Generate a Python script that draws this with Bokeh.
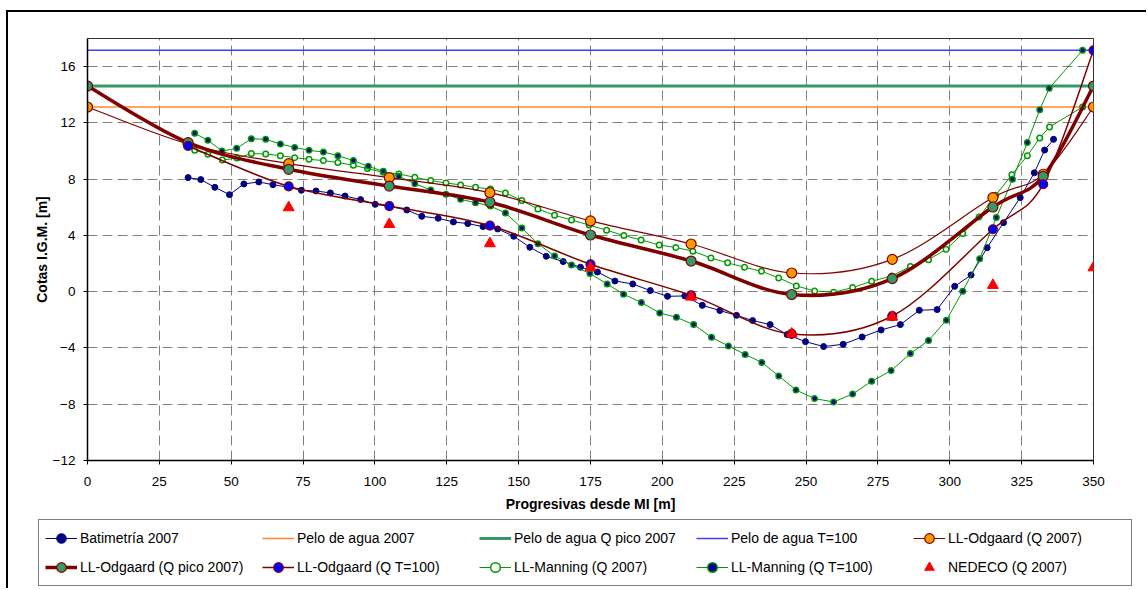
from bokeh.plotting import figure
from bokeh.models import (ColumnDataSource, Legend, LegendItem, Range1d, FixedTicker)
from bokeh.embed import file_html
from bokeh.resources import INLINE

# ---------------- data ----------------
bat_x = [35.0, 39.4, 44.3, 49.4, 54.4, 59.6, 64.5, 69.5, 74.4, 79.5, 84.5, 89.6, 95.0, 100.1,
         105.0, 111.1, 116.3, 122.0, 127.3, 132.3, 137.6, 142.7, 148.3, 153.9, 159.6, 165.5,
         171.5, 177.4, 183.5, 189.7, 195.8, 201.8, 207.8, 213.9, 220.0, 225.8, 231.4, 237.5,
         243.4, 249.8, 256.1, 262.9, 269.5, 276.1, 282.8, 289.4, 295.6, 301.7, 307.4, 313.0,
         318.7, 324.5, 329.4, 333.0, 336.1]
bat_y = [8.11, 7.97, 7.42, 6.90, 7.66, 7.80, 7.61, 7.44, 7.21, 7.16, 7.02, 6.80, 6.55, 6.21,
         6.07, 5.81, 5.36, 5.22, 4.96, 4.84, 4.63, 4.46, 3.94, 3.16, 2.52, 2.14,
         1.74, 1.40, 0.76, 0.55, 0.08, -0.33, -0.30, -0.97, -1.34, -1.68, -2.05, -2.34,
         -3.05, -3.55, -3.90, -3.74, -3.22, -2.72, -2.34, -1.32, -1.27, 0.38, 1.19, 3.13,
         4.91, 6.69, 8.45, 10.07, 10.83]

man07_x = [37.3, 41.9, 46.9, 52.0, 57.0, 62.0, 67.1, 72.1, 77.1, 82.1, 87.1, 92.5, 97.4, 102.9,
           108.3, 113.9, 119.4, 124.7, 129.8, 135.0, 140.2, 145.4, 151.1, 156.7, 162.5, 168.4,
           174.5, 180.6, 186.6, 192.6, 198.9, 204.7, 210.6, 216.9, 222.7, 228.6, 234.5, 240.5,
           246.6, 253.0, 259.6, 266.2, 272.8, 279.8, 286.3, 292.6, 298.7, 304.5, 310.2, 316.0,
           321.6, 327.0, 331.3, 334.7, 346.2]
man07_y = [10.05, 9.77, 9.36, 9.50, 9.82, 9.79, 9.67, 9.53, 9.41, 9.32, 9.18, 8.99, 8.75, 8.49,
           8.37, 8.13, 7.90, 7.73, 7.59, 7.42, 7.30, 7.02, 6.48, 5.88, 5.43, 5.10,
           4.74, 4.37, 3.99, 3.68, 3.32, 3.14, 2.88, 2.40, 2.05, 1.74, 1.45, 0.98,
           0.41, 0.05, -0.04, 0.29, 0.74, 1.12, 1.79, 2.28, 3.01, 4.13, 5.31, 6.86,
           8.32, 9.67, 10.93, 11.71, 13.13]

man100_x = [37.3, 41.9, 46.8, 51.9, 57.0, 62.0, 67.1, 72.1, 77.1, 82.1, 87.1, 92.5, 97.7, 102.9,
            108.3, 113.9, 119.4, 124.7, 129.8, 135.0, 140.2, 145.4, 151.1, 156.7, 162.5, 168.4,
            174.8, 180.8, 186.5, 192.7, 199.1, 204.9, 210.9, 217.1, 223.0, 228.8, 234.6, 240.5,
            246.5, 253.0, 259.6, 266.2, 272.8, 279.6, 286.3, 292.6, 298.8, 304.5, 310.4, 316.2,
            321.8, 327.0, 331.3, 334.6, 346.2]
man100_y = [11.26, 10.76, 10.00, 10.19, 10.88, 10.83, 10.50, 10.26, 10.05, 9.93, 9.67, 9.32, 8.91, 8.56,
            8.20, 7.68, 7.23, 6.92, 6.57, 6.33, 6.09, 5.60, 4.53, 3.41, 2.54, 1.90,
            1.29, 0.55, -0.18, -0.77, -1.51, -1.82, -2.34, -3.24, -3.86, -4.46, -5.03, -5.99,
            -6.99, -7.60, -7.84, -7.27, -6.37, -5.61, -4.40, -3.47, -2.03, 0.03, 2.35, 5.27,
            7.99, 10.60, 12.94, 14.46, 17.16]

od_x = [0, 35, 70, 105, 140, 175, 210, 245, 280, 315, 332.5, 350]
od07_y = [13.13, 10.50, 9.10, 8.11, 7.04, 5.03, 3.39, 1.33, 2.30, 6.69, 8.35, 13.13]
odpico_y = [14.62, 10.60, 8.70, 7.51, 6.36, 4.03, 2.18, -0.20, 0.93, 6.02, 8.20, 14.62]
od100_x = [35, 70, 105, 140, 175, 210, 245, 280, 315, 332.5, 350]
od100_y = [10.36, 7.49, 6.09, 4.70, 1.95, -0.26, -3.00, -1.73, 4.44, 7.64, 17.16]

ned_x = [70, 105, 140, 175, 210, 245, 280, 315, 350]
ned_y = [5.98, 4.79, 3.42, 1.71, -0.37, -3.00, -1.80, 0.46, 1.71]

water_x = [0, 350]
pelo07 = 13.13
pelo_pico = 14.62
pelo_t100 = 17.16

x_ticks = list(range(0, 351, 25))
y_ticks = list(range(-12, 17, 4))

labels = ["Batimetría 2007", "Pelo de agua 2007", "Pelo de agua Q pico 2007", "Pelo de agua T=100",
          "LL-Odgaard (Q 2007)", "LL-Odgaard (Q pico 2007)", "LL-Odgaard (Q T=100)",
          "LL-Manning (Q 2007)", "LL-Manning (Q T=100)", "NEDECO (Q 2007)"]

FONT = "Liberation Sans"


def smooth_source(xs, ys):
    """Bezier segments (Catmull-Rom style, like a spreadsheet 'smoothed line')."""
    n = len(xs)
    d = dict(x0=[], y0=[], x1=[], y1=[], cx0=[], cy0=[], cx1=[], cy1=[])
    for i in range(n - 1):
        im = i - 1 if i > 0 else i
        ip = i + 2 if i + 2 < n else i + 1
        d["x0"].append(xs[i]); d["y0"].append(ys[i])
        d["x1"].append(xs[i + 1]); d["y1"].append(ys[i + 1])
        d["cx0"].append(xs[i] + (xs[i + 1] - xs[im]) / 6.0)
        d["cy0"].append(ys[i] + (ys[i + 1] - ys[im]) / 6.0)
        d["cx1"].append(xs[i + 1] - (xs[ip] - xs[i]) / 6.0)
        d["cy1"].append(ys[i + 1] - (ys[ip] - ys[i]) / 6.0)
    return ColumnDataSource(d)


def draw_series(f, visible=True):
    """Draw all series on figure f; returns list of renderer groups (legend order)."""
    bez_kw = dict(x0="x0", y0="y0", x1="x1", y1="y1", cx0="cx0", cy0="cy0", cx1="cx1", cy1="cy1")
    r_p07 = f.line(water_x, [pelo07, pelo07], line_color="#FF8533", line_width=1.5)
    r_ppico = f.line(water_x, [pelo_pico, pelo_pico], line_color="#339966", line_width=3)
    r_p100 = f.line(water_x, [pelo_t100, pelo_t100], line_color="#3F3FFF", line_width=1.5)

    r_bat_l = f.line(bat_x, bat_y, line_color="#000080", line_width=1)
    r_bat_m = f.scatter(bat_x, bat_y, size=6, marker="circle", fill_color="#000080", line_color="#000080")

    r_m07_l = f.line(man07_x, man07_y, line_color="#009900", line_width=1)
    r_m07_m = f.scatter(man07_x, man07_y, size=5.5, marker="circle", fill_color="white",
                        line_color="#009900", line_width=1.5)
    r_m100_l = f.line(man100_x, man100_y, line_color="#009900", line_width=1)
    r_m100_m = f.scatter(man100_x, man100_y, size=5.5, marker="circle", fill_color="#000099",
                         line_color="#009900", line_width=1.5)

    r_o07_l = f.bezier(source=smooth_source(od_x, od07_y), line_color="#800000", line_width=1.2, **bez_kw)
    r_o100_l = f.bezier(source=smooth_source(od100_x, od100_y), line_color="#800000", line_width=1.5, **bez_kw)
    r_opico_l = f.bezier(source=smooth_source(od_x, odpico_y), line_color="#800000", line_width=3.5, **bez_kw)

    r_o07_m = f.scatter(od_x, od07_y, size=10, marker="circle", fill_color="#FF9900",
                        line_color="#800000", line_width=1.2)
    r_opico_m = f.scatter(od_x, odpico_y, size=10, marker="circle", fill_color="#339966",
                          line_color="#800000", line_width=1.2)
    r_o100_m = f.scatter(od100_x, od100_y, size=9, marker="circle", fill_color="#0000FF",
                         line_color="#800000", line_width=1.2)

    r_ned = f.scatter(ned_x, ned_y, size=11, marker="triangle", fill_color="#FF0000", line_color="#FF0000")

    groups = [[r_bat_l, r_bat_m], [r_p07], [r_ppico], [r_p100], [r_o07_l, r_o07_m],
              [r_opico_l, r_opico_m], [r_o100_l, r_o100_m], [r_m07_l, r_m07_m],
              [r_m100_l, r_m100_m], [r_ned]]
    if not visible:
        for g in groups:
            for r in g:
                r.visible = False
    return groups


# ---------------- main chart ----------------
p = figure(width=1140, height=508, output_backend="svg", toolbar_location=None,
           x_range=Range1d(0, 350), y_range=Range1d(-12, 18),
           min_border_left=79, min_border_right=55, min_border_top=26, min_border_bottom=60)
p.styles = {"margin-left": "6px", "margin-top": "10px",
            "border-left": "2px solid black", "border-top": "2px solid black"}

p.outline_line_color = "#333333"
p.outline_line_width = 1

for ax in (p.xaxis[0], p.yaxis[0]):
    ax.major_label_text_font = FONT
    ax.major_label_text_font_size = "13.5px"
    ax.major_label_text_color = "black"
    ax.axis_label_text_font = FONT
    ax.axis_label_text_font_size = "14px"
    ax.axis_label_text_font_style = "bold"
    ax.axis_label_text_color = "black"
    ax.axis_line_color = "black"
    ax.axis_line_width = 1.5
    ax.major_tick_line_color = "black"
    ax.major_tick_in = 0
    ax.major_tick_out = 4
    ax.minor_tick_line_color = None

p.xaxis.ticker = FixedTicker(ticks=x_ticks)
p.yaxis.ticker = FixedTicker(ticks=y_ticks)
p.xaxis.axis_label = "Progresivas desde MI [m]"
p.yaxis.axis_label = "Cotas I.G.M. [m]"
p.xaxis.major_label_standoff = 12
p.xaxis.axis_label_standoff = 7
p.yaxis.major_label_standoff = 8
p.yaxis.axis_label_standoff = 0

for g in (p.xgrid[0], p.ygrid[0]):
    g.grid_line_color = "#808080"
    g.grid_line_dash = "10 5"
    g.grid_line_width = 1

draw_series(p, visible=True)

# ---------------- legend strip (separate root, no frame alignment) ----------------
lf = figure(width=1140, height=70, output_backend="svg", toolbar_location=None,
            x_range=Range1d(0, 350), y_range=Range1d(-12, 18),
            x_axis_location=None, y_axis_location=None, title=None,
            min_border_left=0, min_border_right=0, min_border_top=0, min_border_bottom=0)
lf.styles = {"margin-left": "6px", "border-left": "2px solid black"}
lf.grid.visible = False
lf.outline_line_color = None
groups = draw_series(lf, visible=False)

items = [LegendItem(label=lab, renderers=grp) for lab, grp in zip(labels, groups)]
legend = Legend(items=items, orientation="horizontal", ncols=5,
                location=(30, 2),
                label_text_font=FONT, label_text_font_size="14px", label_text_color="black",
                glyph_width=32, glyph_height=24, label_standoff=3, label_width=177,
                label_height=20, spacing=5, padding=6, margin=0,
                border_line_color="black", border_line_width=1,
                background_fill_color="white", background_fill_alpha=1)
lf.add_layout(legend, "center")

open("out.html", "w").write(file_html([p, lf], INLINE))
